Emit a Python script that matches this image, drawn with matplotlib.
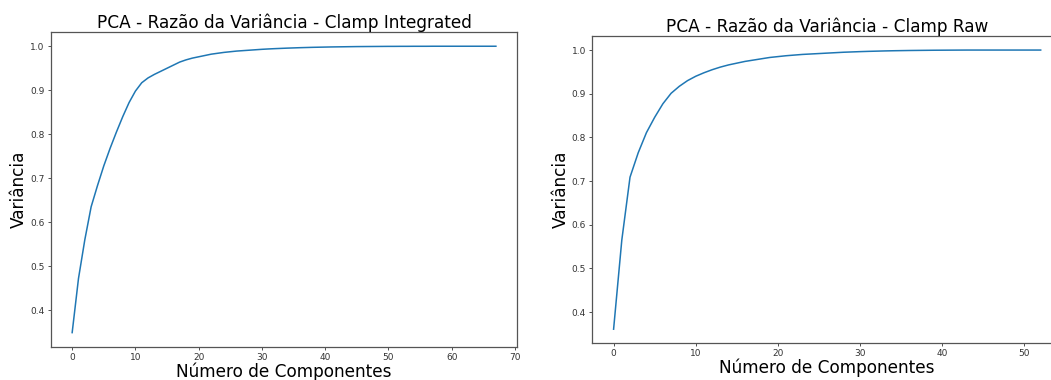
import numpy as np
import matplotlib
matplotlib.use('Agg')
from matplotlib import pyplot as plt

# Cumulative explained variance ratio, one value per component
var_integrated = [0.349, 0.472, 0.560, 0.635, 0.683, 0.728, 0.768, 0.805, 0.840, 0.872,
                  0.898, 0.917, 0.928, 0.936, 0.943, 0.950, 0.957, 0.964, 0.969, 0.973,
                  0.976, 0.979, 0.982, 0.984, 0.986, 0.9875, 0.989, 0.990, 0.991, 0.992,
                  0.993, 0.9938, 0.9945, 0.9951, 0.9957, 0.9962, 0.9967, 0.9971, 0.9975, 0.9978,
                  0.9981, 0.9984, 0.9986, 0.9988, 0.999, 0.9992, 0.9993, 0.9994, 0.9995, 0.9996,
                  0.9997, 0.9997, 0.9998, 0.9998, 0.9999, 0.9999, 0.9999, 1.000, 1.000, 1.000,
                  1.000, 1.000, 1.000, 1.000, 1.000, 1.000, 1.000, 1.000]

var_raw = [0.361, 0.565, 0.709, 0.765, 0.811, 0.846, 0.877, 0.901, 0.917, 0.930,
           0.940, 0.948, 0.955, 0.961, 0.966, 0.970, 0.974, 0.977, 0.980, 0.983,
           0.985, 0.987, 0.9885, 0.990, 0.991, 0.992, 0.993, 0.994, 0.995, 0.9957,
           0.9964, 0.997, 0.9975, 0.998, 0.9984, 0.9987, 0.999, 0.9992, 0.9994, 0.9996,
           0.9997, 0.9998, 0.9999, 1.000, 1.000, 1.000, 1.000, 1.000, 1.000, 1.000,
           1.000, 1.000, 1.000]

titles = ['PCA - Razão da Variância - Clamp Integrated',
          'PCA - Razão da Variância - Clamp Raw']


def plot_variance(ax, values, title, xticks):
    """Plot cumulative variance ratio against component number
    """
    ax.plot(np.arange(len(values)), values, color='#1f77b4', linewidth=1.1)
    ax.set_title(title, fontsize=12.2, pad=3)
    ax.set_xlabel('Número de Componentes', fontsize=12.2, labelpad=0)
    ax.set_ylabel('Variância', fontsize=12.2, labelpad=1.5)
    ax.set_xticks(xticks)
    ax.set_yticks([0.4, 0.5, 0.6, 0.7, 0.8, 0.9, 1.0])
    ax.tick_params(labelsize=6.5, length=2.5, width=0.6, pad=2, colors='#333333')
    for s in ax.spines.values():
        s.set_linewidth(0.9)
        s.set_color('#555555')


fig = plt.figure(figsize=(10.51, 3.8), dpi=100)
ax1 = fig.add_axes([0.0485, 0.087, 0.4435, 0.829])
ax2 = fig.add_axes([0.5635, 0.097, 0.447, 0.808])

plot_variance(ax1, var_integrated, titles[0], range(0, 80, 10))
plot_variance(ax2, var_raw, titles[1], range(0, 60, 10))

fig.savefig('out.png', dpi=100)
